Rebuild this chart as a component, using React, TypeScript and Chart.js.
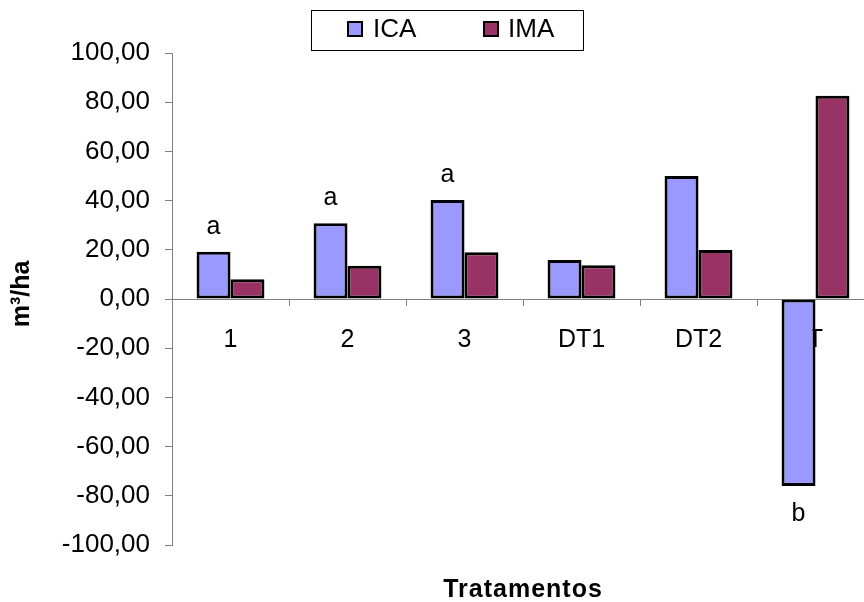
import React, { useEffect, useRef } from "react";
import { Chart, registerables } from "chart.js";

Chart.register(...registerables);

const categories = ["1", "2", "3", "DT1", "DT2", "T"];
const icaValues = [19.2, 30.8, 40.2, 15.9, 50.0, -76.0];
const imaValues = [8.0, 13.5, 19.0, 13.7, 19.9, 82.6];
const icaLetters = ["a", "a", "a", "", "", "b"];
const seriesNames = ["ICA", "IMA"];
const yTitle = "m³/ha";
const xTitle = "Tratamentos";

const FONT = "Arial, 'Liberation Sans', sans-serif";

const customPlugin = {
  id: "custom",
  afterDatasetsDraw(chart: any) {
    const ctx = chart.ctx;
    const meta = chart.getDatasetMeta(0);
    ctx.save();
    ctx.font = `25px ${FONT}`;
    ctx.fillStyle = "#000";
    ctx.textAlign = "center";
    ctx.textBaseline = "middle";
    meta.data.forEach((bar: any, i: number) => {
      const letter = icaLetters[i];
      if (!letter) return;
      const v = icaValues[i];
      const y = v >= 0 ? bar.y - 25 : bar.y + 28;
      ctx.fillText(letter, bar.x, y);
    });
    ctx.restore();
  },
  afterDraw(chart: any) {
    const ctx = chart.ctx;
    ctx.save();
    // axis titles
    ctx.fillStyle = "#000";
    ctx.font = `bold 25px ${FONT}`;
    ctx.textAlign = "center";
    ctx.textBaseline = "middle";
    (ctx as any).letterSpacing = "1px";
    ctx.fillText(xTitle, 523, 590);
    (ctx as any).letterSpacing = "0px";
    ctx.save();
    ctx.translate(22, 294);
    ctx.rotate(-Math.PI / 2);
    ctx.fillText(yTitle, 0, 0);
    ctx.restore();

    // legend
    ctx.strokeStyle = "#000";
    ctx.lineWidth = 1;
    ctx.strokeRect(311.5, 10.5, 272, 40);
    const items = [
      { x: 348, tx: 373 },
      { x: 484, tx: 508 },
    ];
    ctx.font = `26px ${FONT}`;
    ctx.textAlign = "left";
    chart.data.datasets.forEach((ds: any, i: number) => {
      const it = items[i];
      ctx.fillStyle = ds.backgroundColor;
      ctx.fillRect(it.x, 22, 14, 14);
      ctx.lineWidth = 2;
      ctx.strokeStyle = "#000";
      ctx.strokeRect(it.x, 22, 14, 14);
      ctx.fillStyle = "#000";
      ctx.fillText(ds.label, it.tx, 30);
    });
    ctx.restore();
  },
};

export default function App() {
  const ref = useRef<HTMLCanvasElement>(null);
  useEffect(() => {
    if (!ref.current) return;
    const chart = new Chart(ref.current, {
      type: "bar",
      data: {
        labels: categories,
        datasets: [
          {
            label: seriesNames[0],
            data: icaValues,
            backgroundColor: "#9999FF",
            borderColor: "#000",
            borderWidth: 3,
            borderSkipped: false,
            categoryPercentage: 0.58,
            barPercentage: 1.0,
          },
          {
            label: seriesNames[1],
            data: imaValues,
            backgroundColor: "#993366",
            borderColor: "#000",
            borderWidth: 3,
            borderSkipped: false,
            categoryPercentage: 0.58,
            barPercentage: 1.0,
          },
        ],
      },
      options: {
        responsive: false,
        animation: false,
        layout: { padding: { left: 0, right: 6, top: 53, bottom: 57 } },
        plugins: {
          legend: { display: false },
          tooltip: { enabled: false },
        },
        scales: {
          x: {
            position: { y: 0 } as any,
            grid: {
              display: true,
              drawOnChartArea: false,
              drawTicks: true,
              tickLength: 6,
              color: "#808080",
              offset: true,
            },
            border: { display: true, color: "#808080", width: 1 },
            ticks: {
              color: "#000",
              font: { family: FONT, size: 25 },
              padding: 20,
              maxRotation: 0,
            },
          },
          y: {
            min: -100,
            max: 100,
            afterFit(scale: any) {
              scale.width = 172;
            },
            grid: {
              display: true,
              drawOnChartArea: false,
              drawTicks: true,
              tickLength: 7,
              color: "#808080",
            },
            border: { display: true, color: "#808080", width: 1 },
            ticks: {
              stepSize: 20,
              color: "#000",
              font: { family: FONT, size: 26 },
              padding: 15,
              callback: (v: any) => Number(v).toFixed(2).replace(".", ","),
            },
          },
        },
      },
      plugins: [customPlugin],
    });
    return () => chart.destroy();
  }, []);
  return (
    <div
      style={{
        position: "absolute",
        left: 0,
        top: 0,
        width: 864,
        height: 602,
        overflow: "hidden",
        background: "#fff",
      }}
    >
      <canvas ref={ref} width={880} height={602} style={{ display: "block" }} />
    </div>
  );
}
